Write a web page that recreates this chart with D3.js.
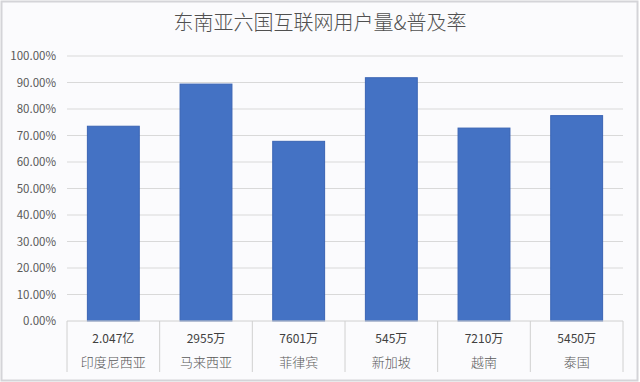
<!DOCTYPE html>
<html lang="zh">
<head>
    <meta charset="UTF-8">
    <title>东南亚六国互联网用户量&普及率</title>
    <script src="https://d3js.org/d3.v7.min.js"></script>
    <style>
        body {
            margin: 0;
            background: #ffffff;
        }
        svg text {
            font-family: "Noto Sans CJK SC", "Noto Sans", sans-serif;
        }
    </style>
</head>
<body>
    <div id="chart"></div>
    <script>
        // chart data
        const countries = ["印度尼西亚", "马来西亚", "菲律宾", "新加坡", "越南", "泰国"];
        const users = ["2.047亿", "2955万", "7601万", "545万", "7210万", "5450万"];
        const penetration = [0.735, 0.894, 0.678, 0.918, 0.728, 0.775];
        const yTicks = [0, 0.1, 0.2, 0.3, 0.4, 0.5, 0.6, 0.7, 0.8, 0.9, 1.0];

        const width = 640;
        const height = 382;
        const margin = {top: 56, right: 17, bottom: 61, left: 67};

        const svg = d3.select("#chart")
            .append("svg")
            .attr("width", width)
            .attr("height", height);

        // background + outer frame
        svg.append("rect")
            .attr("x", 1.5).attr("y", 1.5)
            .attr("width", width - 4).attr("height", height - 3)
            .attr("fill", "#fbfbfd")
            .attr("stroke", "#d4d4d8")
            .attr("stroke-width", 2);

        svg.append("text")
            .attr("x", width / 2)
            .attr("y", 30)
            .attr("text-anchor", "middle")
            .attr("font-size", 20)
            .attr("font-weight", 300)
            .attr("fill", "#505050")
            .text("东南亚六国互联网用户量&普及率");

        const x = d3.scaleBand()
            .domain(countries)
            .range([margin.left, width - margin.right])
            .paddingInner(0.44)
            .paddingOuter(0.22);

        const y = d3.scaleLinear()
            .domain([0, 1])
            .range([height - margin.bottom, margin.top]);

        // gridlines
        svg.append("g")
            .selectAll("line")
            .data(yTicks.slice(1))
            .join("line")
            .attr("x1", margin.left)
            .attr("x2", width - margin.right)
            .attr("y1", d => y(d))
            .attr("y2", d => y(d))
            .attr("stroke", "#d9d9d9")
            .attr("stroke-width", 1);

        // y axis labels
        svg.append("g")
            .selectAll("text")
            .data(yTicks)
            .join("text")
            .attr("x", 56)
            .attr("y", d => y(d) + 4)
            .attr("text-anchor", "end")
            .attr("font-size", 11.5)
            .attr("fill", "#595959")
            .text(d => d3.format(".2%")(d));

        // bars
        svg.append("g")
            .selectAll("rect")
            .data(countries)
            .join("rect")
            .attr("x", d => x(d))
            .attr("y", (d, i) => y(penetration[i]))
            .attr("width", x.bandwidth())
            .attr("height", (d, i) => y(0) - y(penetration[i]))
            .attr("fill", "#4472c4")
            .attr("stroke", "#3a64b4")
            .attr("stroke-width", 1);

        // x axis line and category separators
        const base = y(0);
        svg.append("line")
            .attr("x1", margin.left).attr("x2", width - margin.right)
            .attr("y1", base).attr("y2", base)
            .attr("stroke", "#d0d0d0");

        const bounds = d3.range(countries.length + 1).map(i => margin.left + i * (width - margin.left - margin.right) / countries.length);
        svg.append("g")
            .selectAll("line")
            .data(bounds)
            .join("line")
            .attr("x1", d => d).attr("x2", d => d)
            .attr("y1", base).attr("y2", base + 51)
            .attr("stroke", "#d0d0d0");

        // category labels: users on first line, name on second
        const lab = svg.append("g")
            .selectAll("g")
            .data(countries)
            .join("g")
            .attr("transform", d => `translate(${x(d) + x.bandwidth() / 2},0)`);

        lab.append("text")
            .attr("y", base + 22)
            .attr("text-anchor", "middle")
            .attr("font-size", 12)
            .attr("fill", "#404040")
            .text((d, i) => users[i]);

        lab.append("text")
            .attr("y", base + 46)
            .attr("text-anchor", "middle")
            .attr("font-size", 13)
            .attr("font-weight", 300)
            .attr("fill", "#595959")
            .text(d => d);
    </script>
</body>
</html>
